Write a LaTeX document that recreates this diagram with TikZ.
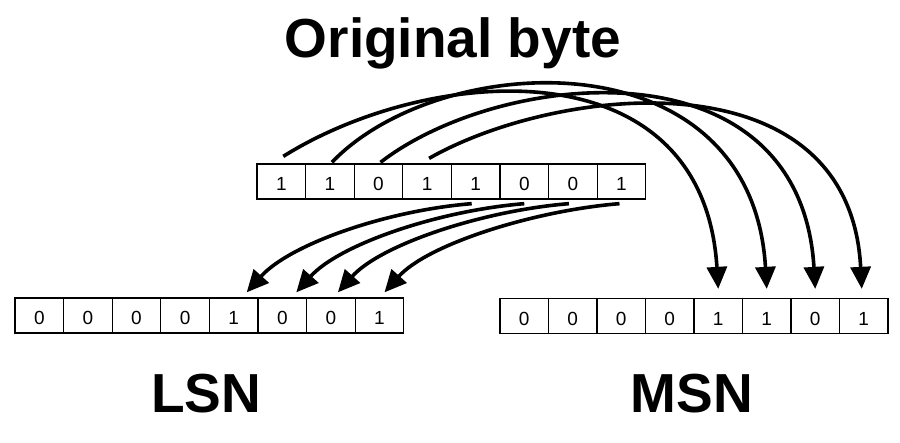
\documentclass[tikz,border=0pt]{standalone}
\usepackage{fontspec}
\setmainfont{Liberation Sans}
\usetikzlibrary{arrows.meta,calc}
\begin{document}
\begin{tikzpicture}[x=1pt,y=-1pt,
  cell/.style={draw=black,line width=1.3pt,minimum width=48.6pt,minimum height=35pt,
    inner sep=0pt,text height=18.5pt,text depth=0pt,font=\fontsize{19}{21}\selectfont},
  title/.style={anchor=base,font=\fontsize{55}{60}\selectfont\bfseries},
  arr/.style={line width=3.6pt,-{Triangle[length=22pt,width=20pt]}}]
\useasboundingbox (0,0) rectangle (900,442);
% top row
\foreach \v [count=\i from 0] in {1,1,0,1,1,0,0,1}
  \node[cell] (t\i) at (257+48.6*\i+24.3,181.5) {\v};
% LSN row
\foreach \v [count=\i from 0] in {0,0,0,0,1,0,0,1}
  \node[cell] (l\i) at (15+48.6*\i+24.3,315.5) {\v};
% MSN row
\foreach \v [count=\i from 0] in {0,0,0,0,1,1,0,1}
  \node[cell] (m\i) at (500+48.5*\i+24.25,316) {\v};
% labels
\node[title] (ttl) at (453,57) {Original byte};
\node[title] (lsn) at (206,412) {LSN};
\node[title] (msn) at (692,412) {MSN};
% arrows to MSN
\draw[arr] ([xshift=2pt,yshift=7pt]t0.north) .. controls +(147,-92) and +(-15,-245) .. ([yshift=9pt]m4.north);
\draw[arr] ([xshift=2pt,yshift=1pt]t1.north) .. controls +(108,-113) and +(-15,-255) .. ([yshift=9pt]m5.north);
\draw[arr] ([xshift=2pt,yshift=1pt]t2.north) .. controls +(120,-93) and +(-15,-250) .. ([yshift=9pt]m6.north);
\draw[arr] ([xshift=2pt,yshift=5pt]t3.north) .. controls +(130,-74) and +(-12,-235) .. ([xshift=-2pt,yshift=9pt]m7.north);
% arrows to LSN
\draw[arr] ([xshift=-4pt,yshift=-4pt]t4.south) .. controls +(-86,7) and +(43,-48) .. ([xshift=13pt,yshift=5pt]l4.north);
\draw[arr] ([yshift=-4pt]t5.south) .. controls +(-86,7) and +(43,-48) .. ([xshift=14pt,yshift=5pt]l5.north);
\draw[arr] ([xshift=-4pt,yshift=-4pt]t6.south) .. controls +(-86,7) and +(43,-48) .. ([xshift=7pt,yshift=5pt]l6.north);
\draw[arr] ([xshift=-2pt,yshift=-4pt]t7.south) .. controls +(-86,7) and +(43,-48) .. ([xshift=5pt,yshift=5pt]l7.north);
\end{tikzpicture}
\end{document}
